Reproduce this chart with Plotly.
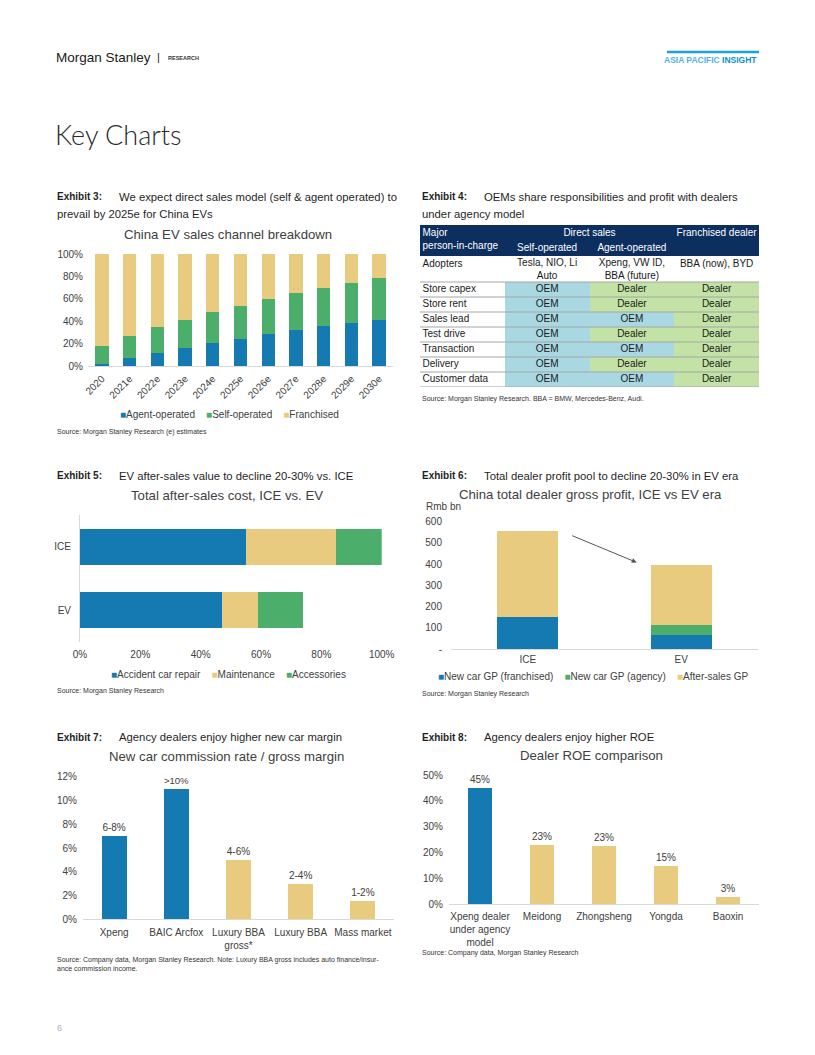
import plotly.graph_objects as go

W, H = 815, 1055
OFF = 8  # page body margin of the browser page
def X(px): return (px - OFF) / W
def Y(py): return 1 - (py - OFF) / H

FONT = "Liberation Sans, Arial, sans-serif"
BLUE = "#167ab2"; GREEN = "#4cae6b"; TAN = "#e9cb80"
TXT = "#404040"; AXL = "#d9d9d9"

# ---------------- data ----------------
ex3_years = ["2020", "2021e", "2022e", "2023e", "2024e", "2025e", "2026e", "2027e", "2028e", "2029e", "2030e"]
ex3_agent = [2, 7, 11.5, 16, 20.5, 24.5, 28.5, 32, 35.5, 38.5, 41.5]
ex3_self = [16, 20, 23, 25.5, 27.5, 29.5, 31.5, 33, 34.5, 36, 37.5]
ex3_franchised = [82, 73, 65.5, 58.5, 52, 46, 40, 35, 30, 25.5, 21]
ex3_names = ["Agent-operated", "Self-operated", "Franchised"]

tbl_head_first = "Major<br>person-in-charge"
tbl_head_group = "Direct sales"
tbl_head_sub = ["Self-operated", "Agent-operated"]
tbl_head_fran = "Franchised dealer"
tbl_rows = ["Adopters", "Store capex", "Store rent", "Sales lead", "Test drive", "Transaction", "Delivery", "Customer data"]
tbl_self = ["Tesla, NIO, Li<br>Auto", "OEM", "OEM", "OEM", "OEM", "OEM", "OEM", "OEM"]
tbl_agent = ["Xpeng, VW ID,<br>BBA (future)", "Dealer", "Dealer", "OEM", "Dealer", "OEM", "Dealer", "OEM"]
tbl_fran = ["BBA (now), BYD", "Dealer", "Dealer", "Dealer", "Dealer", "Dealer", "Dealer", "Dealer"]

ex5_cats = ["EV", "ICE"]
ex5_accident = [47, 55]
ex5_maint = [12, 30]
ex5_access = [15, 15]
ex5_names = ["Accident car repair", "Maintenance", "Accessories"]

ex6_cats = ["ICE", "EV"]
ex6_franchised = [150, 66]
ex6_agency = [0, 47]
ex6_after = [405, 283]
ex6_names = ["New car GP (franchised)", "New car GP (agency)", "After-sales GP"]
ex6_ticks = [0, 100, 200, 300, 400, 500, 600]
ex6_ticktext = ["-", "100", "200", "300", "400", "500", "600"]

ex7_cats = ["Xpeng", "BAIC Arcfox", "Luxury BBA<br>gross*", "Luxury BBA", "Mass market"]
ex7_values = [7, 11, 5, 3, 1.5]
ex7_labels = ["6-8%", ">10%", "4-6%", "2-4%", "1-2%"]
ex7_agency = [True, True, False, False, False]

ex8_cats = ["Xpeng dealer<br>under agency<br>model", "Meidong", "Zhongsheng", "Yongda", "Baoxin"]
ex8_values = [45, 23, 22.6, 15, 2.8]
ex8_agency = [True, False, False, False, False]

# ---------------- figure ----------------
fig = go.Figure()

for name, vals, col in zip(ex3_names, [ex3_agent, ex3_self, ex3_franchised], [BLUE, GREEN, TAN]):
    fig.add_trace(go.Bar(x=ex3_years, y=vals, name=name, marker=dict(color=col, line=dict(width=0)),
                         width=0.48, xaxis="x", yaxis="y", showlegend=False, hoverinfo="skip"))

for name, vals, col in zip(ex5_names, [ex5_accident, ex5_maint, ex5_access], [BLUE, TAN, GREEN]):
    fig.add_trace(go.Bar(y=ex5_cats, x=vals, orientation="h", name=name,
                         marker=dict(color=col, line=dict(width=0)),
                         width=0.56, xaxis="x2", yaxis="y2", showlegend=False, hoverinfo="skip"))

for name, vals, col in zip(ex6_names, [ex6_franchised, ex6_agency, ex6_after], [BLUE, GREEN, TAN]):
    fig.add_trace(go.Bar(x=ex6_cats, y=vals, name=name, marker=dict(color=col, line=dict(width=0)),
                         width=0.4, xaxis="x3", yaxis="y3", showlegend=False, hoverinfo="skip"))

fig.add_trace(go.Bar(x=ex7_cats, y=ex7_values, text=ex7_labels, textposition="outside",
                     textfont=dict(size=10, color=TXT, family=FONT), cliponaxis=False,
                     marker=dict(color=[BLUE if a else TAN for a in ex7_agency], line=dict(width=0)),
                     width=0.4, xaxis="x4", yaxis="y4", showlegend=False, hoverinfo="skip"))

fig.add_trace(go.Bar(x=ex8_cats, y=ex8_values, texttemplate="%{y:.0f}%", textposition="outside",
                     textfont=dict(size=10, color=TXT, family=FONT), cliponaxis=False,
                     marker=dict(color=[BLUE if a else TAN for a in ex8_agency], line=dict(width=0)),
                     width=0.4, xaxis="x5", yaxis="y5", showlegend=False, hoverinfo="skip"))

# ---------------- table (heatmap of cells + text) ----------------
CBLUE = "#a9d8e3"; CGREEN = "#c3e2a5"; NAVY = "#0c2f5f"
row_h = [31, 26] + [15] * (len(tbl_rows) - 1)      # header, adopters, body rows (layout)
edges = [0]
for h in row_h:
    edges.append(edges[-1] + h)
col_edges = [0, 1, 2, 3, 4]
code = {"OEM": 1, "Dealer": 2}
zrows = [[3, 3, 3, 3], [0, 0, 0, 0]]
for i in range(1, len(tbl_rows)):
    zrows.append([0, code[tbl_self[i]], code[tbl_agent[i]], code[tbl_fran[i]]])
fig.add_trace(go.Heatmap(z=zrows, x=col_edges, y=edges, zmin=0, zmax=3, showscale=False,
                         colorscale=[[0, "white"], [1 / 3, CBLUE], [2 / 3, CGREEN], [1, NAVY]],
                         xaxis="x6", yaxis="y6", hoverinfo="skip"))

# header texts
fig.add_trace(go.Scatter(x=[0.03], y=[14.5], text=[tbl_head_first], mode="text", textposition="middle right",
                         textfont=dict(size=10, color="white", family=FONT), xaxis="x6", yaxis="y6",
                         showlegend=False, hoverinfo="skip", cliponaxis=False))
fig.add_trace(go.Scatter(x=[2.0, 1.5, 2.5, 3.5], y=[8, 23, 23, 8],
                         text=[tbl_head_group] + tbl_head_sub + [tbl_head_fran], mode="text",
                         textposition="middle center",
                         textfont=dict(size=10, color="white", family=FONT), xaxis="x6", yaxis="y6",
                         showlegend=False, hoverinfo="skip", cliponaxis=False))

# body texts
def ytext(i, s):
    top, bot = edges[i + 1], edges[i + 2]
    if i == 0:
        n = s.count("<br>") + 1
        return top + 8 + (n - 1) * 5.5
    return (top + bot) / 2

fig.add_trace(go.Scatter(x=[0.03] * len(tbl_rows), y=[ytext(i, s) for i, s in enumerate(tbl_rows)],
                         text=tbl_rows, mode="text", textposition="middle right",
                         textfont=dict(size=10, color="#1a1a1a", family=FONT), xaxis="x6", yaxis="y6",
                         showlegend=False, hoverinfo="skip", cliponaxis=False))
bx, by, bt = [], [], []
for j, col in enumerate([tbl_self, tbl_agent, tbl_fran]):
    for i, s in enumerate(col):
        bx.append(j + 1.5); by.append(ytext(i, s)); bt.append(s)
fig.add_trace(go.Scatter(x=bx, y=by, text=bt, mode="text", textposition="middle center",
                         textfont=dict(size=10, color="#1a1a1a", family=FONT), xaxis="x6", yaxis="y6",
                         showlegend=False, hoverinfo="skip", cliponaxis=False))

axfont = dict(size=10, color=TXT, family=FONT)
base = dict(showgrid=False, zeroline=False, ticks="", tickfont=axfont, fixedrange=True, automargin=False)
hidden = dict(showgrid=False, zeroline=False, showticklabels=False, ticks="", showline=False,
              fixedrange=True, automargin=False)

fig.update_layout(
    width=W, height=H, margin=dict(l=0, r=0, t=0, b=0, pad=0), autosize=False,
    paper_bgcolor="white", plot_bgcolor="rgba(0,0,0,0)", barmode="stack",
    font=dict(family=FONT, color=TXT),
    xaxis=dict(base, domain=[X(88), X(393)], type="category", showline=True, linecolor=AXL,
               tickangle=-45, anchor="y", ticklabelstandoff=2),
    yaxis=dict(base, domain=[Y(366), Y(254)], range=[0, 100], dtick=20, ticksuffix="%",
               anchor="x", ticklabelstandoff=4),
    xaxis2=dict(base, domain=[X(80), X(381.7)], range=[0, 100], dtick=20, ticksuffix="%",
                anchor="y2", ticklabelstandoff=5),
    yaxis2=dict(base, domain=[Y(642), Y(515)], type="category", categoryorder="array",
                categoryarray=ex5_cats, showline=True, linecolor=AXL, anchor="x2", ticklabelstandoff=6),
    xaxis3=dict(base, domain=[X(451), X(758)], type="category", showline=True, linecolor=AXL,
                anchor="y3", ticklabelstandoff=1),
    yaxis3=dict(base, domain=[Y(649), Y(521.7)], range=[0, 600], tickvals=ex6_ticks,
                ticktext=ex6_ticktext, anchor="x3", ticklabelstandoff=8),
    xaxis4=dict(base, domain=[X(83), X(394)], type="category", showline=True, linecolor=AXL,
                anchor="y4", ticklabelstandoff=4),
    yaxis4=dict(base, domain=[Y(919.3), Y(776.7)], range=[0, 12], dtick=2, ticksuffix="%",
                anchor="x4", ticklabelstandoff=5),
    xaxis5=dict(base, domain=[X(449), X(759)], type="category", showline=True, linecolor=AXL,
                anchor="y5", ticklabelstandoff=3),
    yaxis5=dict(base, domain=[Y(904.3), Y(775)], range=[0, 50], dtick=10, ticksuffix="%",
                anchor="x5", ticklabelstandoff=5),
    xaxis6=dict(hidden, domain=[X(420), X(759)], range=[0, 4], anchor="y6"),
    yaxis6=dict(hidden, domain=[Y(225 + edges[-1]), Y(225)], range=[edges[-1], 0], anchor="x6"),
)

ann = []
def txt(x, y, text, size=10, color=TXT, xanchor="left", family=FONT, weight=None, **kw):
    f = dict(size=size, color=color, family=family)
    if weight:
        f["weight"] = weight
    d = dict(xref="paper", yref="paper", x=X(x), y=Y(y), text=text, showarrow=False,
             xanchor=xanchor, yanchor="middle", font=f)
    d.update(kw)
    ann.append(d)

# page header
txt(54, 57, "Morgan Stanley", 13.5, "#1a1a1a")
txt(155, 57, "|", 11, "#1a1a1a")
txt(166, 58, "<b>RESEARCH</b>", 5.5, "#333333")
txt(759, 59.5, "<b>ASIA PACIFIC <span style='color:#0a8fd6'>INSIGHT</span></b>", 8.5, "#4fb3ea", xanchor="right")
txt(53, 134, "Key Charts", 27, "#2a2a2a", family="Lato, Open Sans, sans-serif", weight=300)
txt(55, 1028, "6", 9, "#a8b0c0")

ET = "#1f1f1f"
def exhibit(x0, xt, y1, label, line1, line2=None):
    txt(x0, y1, "<b>" + label + "</b>", 10, ET)
    txt(xt, y1, line1, 11.3, ET)
    if line2:
        txt(x0, y1 + 17.5, line2, 11.3, ET)

exhibit(55, 117, 196.5, "Exhibit 3:", "We expect direct sales model (self & agent operated) to",
        "prevail by 2025e for China EVs")
exhibit(420, 482, 196.5, "Exhibit 4:", "OEMs share responsibilities and profit with dealers",
        "under agency model")
exhibit(55, 117, 476, "Exhibit 5:", "EV after-sales value to decline 20-30% vs. ICE")
exhibit(420, 482, 476, "Exhibit 6:", "Total dealer profit pool to decline 20-30% in EV era")
exhibit(55, 117, 737, "Exhibit 7:", "Agency dealers enjoy higher new car margin")
exhibit(420, 482, 737, "Exhibit 8:", "Agency dealers enjoy higher ROE")

# chart titles
CT = 13.2
txt(227.5, 234, "China EV sales channel breakdown", CT, TXT, xanchor="center")
txt(226.7, 495, "Total after-sales cost, ICE vs. EV", CT, TXT, xanchor="center")
txt(590.5, 494, "China total dealer gross profit, ICE vs EV era", CT, TXT, xanchor="center")
txt(226.7, 756, "New car commission rate / gross margin", CT, TXT, xanchor="center")
txt(591.7, 755, "Dealer ROE comparison", CT, TXT, xanchor="center")
txt(424, 506.5, "Rmb bn", 10, TXT)

# legends
NB = "\u00a0"
def legend(xc, y, names, colors):
    parts = ["<span style='color:%s'>■</span>%s" % (c, n) for n, c in zip(names, colors)]
    txt(xc, y, (NB * 4).join(parts), 10, TXT, xanchor="center")

legend(229, 414, ex3_names, [BLUE, GREEN, TAN])
legend(228, 674, ex5_names, [BLUE, TAN, GREEN])
legend(593, 676, ex6_names, [BLUE, GREEN, TAN])

# sources
SRC = "#333333"
txt(55, 432, "Source: Morgan Stanley Research (e) estimates", 7, SRC)
txt(420, 398.5, "Source: Morgan Stanley Research. BBA = BMW, Mercedes-Benz, Audi.", 7, SRC)
txt(55, 690.5, "Source: Morgan Stanley Research", 7, SRC)
txt(420, 693.5, "Source: Morgan Stanley Research", 7, SRC)
txt(55, 959.5, "Source: Company data, Morgan Stanley Research. Note: Luxury BBA gross includes auto finance/insur-", 7, SRC)
txt(55, 968.5, "ance commission income.", 7, SRC)
txt(420, 952.5, "Source: Company data, Morgan Stanley Research", 7, SRC)

# Exhibit 6 arrow (data coordinates of the subplot)
ann.append(dict(xref="x3", yref="y3", axref="x3", ayref="y3", x=0.71, y=408, ax=0.28, ay=537,
                showarrow=True, arrowhead=2, arrowsize=1, arrowwidth=1, arrowcolor="#555555", text=""))

fig.update_layout(annotations=ann)

# shapes: header rule, table row rules (in table axis coordinates)
shapes = [dict(type="line", xref="paper", yref="paper", x0=X(667), x1=X(759), y0=Y(52), y1=Y(52),
               line=dict(color="#1ba1e2", width=2.5))]
for e in edges[2:]:
    shapes.append(dict(type="line", xref="x6", yref="y6", x0=0, x1=4, y0=e, y1=e,
                       line=dict(color="#a6a6a6", width=1)))
fig.update_layout(shapes=shapes)

fig.write_html("out.html")
